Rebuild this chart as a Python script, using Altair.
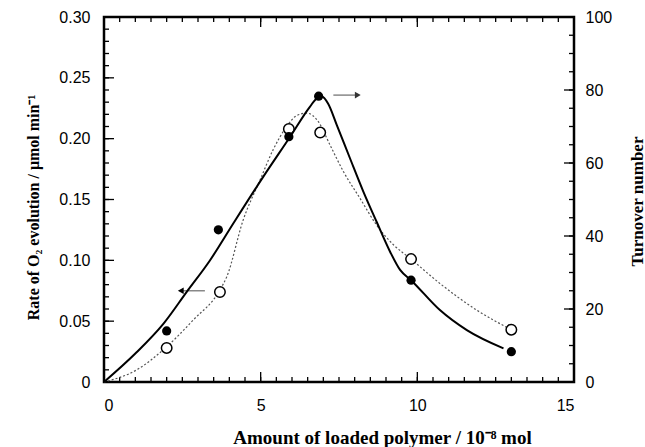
import altair as alt
import pandas as pd

# ---- data ----
# open circles: rate of O2 evolution (left axis, umol/min)
rate_x = [2.0, 3.7, 5.9, 6.9, 9.8, 13.0]
rate_y = [0.028, 0.074, 0.208, 0.205, 0.101, 0.043]
# filled circles: turnover number (right axis)
ton_x = [2.0, 3.65, 5.9, 6.85, 9.8, 13.0]
ton_y = [14.0, 41.7, 67.2, 78.3, 27.9, 8.3]

# dotted guide curve for the rate (left axis)
rate_curve_x = [0, 1.04, 2.0, 2.85, 3.7, 3.92, 4.44, 4.98, 5.4, 5.83, 6.15, 6.47,
                6.84, 7.21, 7.64, 8.17, 8.7, 9.23, 9.8, 10.72, 11.9, 13.0]
rate_curve_y = [0, 0.0099, 0.029, 0.051, 0.0756, 0.0866, 0.133, 0.166, 0.191, 0.210,
                0.219, 0.221, 0.214, 0.195, 0.173, 0.151, 0.129, 0.113, 0.101, 0.081,
                0.059, 0.043]
# solid guide curve for the turnover number (right axis)
ton_curve_x = [0, 1.0, 1.9, 2.64, 3.38, 4.13, 5.08, 5.94, 6.57, 6.8, 6.95, 7.15, 7.43,
               7.85, 8.28, 8.7, 9.13, 9.45, 9.8, 10.72, 11.58, 12.75]
ton_curve_y = [0, 7.8, 16.0, 24.7, 33.3, 43.5, 56.2, 67.2, 75.4, 77.8, 78.2, 76.3, 70.4,
               61.3, 52.1, 43.9, 35.7, 30.7, 27.9, 19.7, 14.2, 9.2]

# arrows (axis indicators)
left_arrow = {"x1": 3.22, "x2": 2.45, "y": 0.075}
right_arrow = {"x1": 7.32, "x2": 8.1, "y": 78.6}

# tick values
x_labels = [0, 5, 10, 15]
x_minor = [i * 0.5 for i in range(31)]
yl_labels = [0, 0.05, 0.10, 0.15, 0.20, 0.25, 0.30]
yl_minor = [round(i * 0.01, 2) for i in range(31)]
yr_labels = [0, 20, 40, 60, 80, 100]
yr_minor = [i * 5 for i in range(21)]

W, H = 470, 365
LABEL_FONT = "Liberation Sans"
TITLE_FONT = "Liberation Serif"

x_axis = alt.Axis(
    title="Amount of loaded polymer / 10⁻⁸ mol", values=x_labels, ticks=False,
    domain=False, grid=False, labelFont=LABEL_FONT, labelFontSize=16, labelColor="black",
    labelPadding=15, titleFont=TITLE_FONT, titleFontSize=19, titleFontWeight="bold",
    titleColor="black", titleX=278, titleY=55, titleBaseline="middle",
)
x_scale = alt.Scale(domain=[0, 15], nice=False, zero=False)


def X(field):
    return alt.X(f"{field}:Q", scale=x_scale, axis=x_axis)


yl_scale = alt.Scale(domain=[0, 0.30], nice=False)
yl_axis = alt.Axis(
    title="Rate of O₂ evolution / μmol min⁻¹", values=yl_labels, ticks=False,
    domain=False, grid=False, orient="left",
    labelExpr="datum.value == 0 ? '0' : format(datum.value, '.2f')",
    labelFont=LABEL_FONT, labelFontSize=16, labelColor="black", labelPadding=14,
    titleFont=TITLE_FONT, titleFontSize=16, titleFontWeight="bold", titleColor="black",
    titleAngle=270, titleBaseline="middle", titleX=-71, titleY=190,
)
yr_scale = alt.Scale(domain=[0, 100], nice=False)
yr_axis = alt.Axis(
    title="Turnover number", values=yr_labels, ticks=False, domain=False, grid=False,
    orient="right", labelFont=LABEL_FONT, labelFontSize=16, labelColor="black",
    labelPadding=11, titleFont=TITLE_FONT, titleFontSize=17, titleFontWeight="bold",
    titleColor="black", titleAngle=270, titleBaseline="middle", titleX=63, titleY=184,
)


def YL(field):
    return alt.Y(f"{field}:Q", scale=yl_scale, axis=yl_axis)


def YR(field):
    return alt.Y(f"{field}:Q", scale=yr_scale, axis=yr_axis)


rate_pts = pd.DataFrame({"x": rate_x, "y": rate_y})
ton_pts = pd.DataFrame({"x": ton_x, "y": ton_y})
rate_curve = pd.DataFrame({"x": rate_curve_x, "y": rate_curve_y})
ton_curve = pd.DataFrame({"x": ton_curve_x, "y": ton_curve_y})

# ---- left-scale group ----
left_minor = alt.Chart(pd.DataFrame({"v": yl_minor})).mark_rule(
    color="black", strokeWidth=1.3).encode(y=YL("v"), x=alt.value(0), x2=alt.value(5))
left_major = alt.Chart(pd.DataFrame({"v": yl_labels})).mark_rule(
    color="black", strokeWidth=1.3).encode(y=YL("v"), x=alt.value(0), x2=alt.value(10))

rate_line = alt.Chart(rate_curve).mark_line(
    color="#555555", strokeWidth=1.2, strokeDash=[2, 2], interpolate="monotone"
).encode(x=X("x"), y=YL("y"))

la = pd.DataFrame([left_arrow])
left_arrow_line = alt.Chart(la).mark_rule(color="#888888", strokeWidth=1.5).encode(
    x=X("x1"), x2="x2:Q", y=YL("y"))
left_arrow_head = alt.Chart(la).mark_point(
    shape="triangle-left", filled=True, color="black", size=45, opacity=1
).encode(x=X("x2"), y=YL("y"))

rate_points = alt.Chart(rate_pts).mark_point(
    shape="circle", filled=True, fill="white", stroke="black", strokeWidth=1.5,
    size=110, opacity=1
).encode(x=X("x"), y=YL("y"))

left_group = alt.layer(left_minor, left_major, rate_line, left_arrow_line,
                       left_arrow_head, rate_points)

# ---- right-scale group ----
right_minor = alt.Chart(pd.DataFrame({"v": yr_minor})).mark_rule(
    color="black", strokeWidth=1.3).encode(y=YR("v"), x=alt.value(W), x2=alt.value(W - 5))
right_major = alt.Chart(pd.DataFrame({"v": yr_labels})).mark_rule(
    color="black", strokeWidth=1.3).encode(y=YR("v"), x=alt.value(W), x2=alt.value(W - 10))

ton_line = alt.Chart(ton_curve).mark_line(
    color="black", strokeWidth=2, interpolate="monotone"
).encode(x=X("x"), y=YR("y"))

ra = pd.DataFrame([right_arrow])
right_arrow_line = alt.Chart(ra).mark_rule(color="#888888", strokeWidth=1.5).encode(
    x=X("x1"), x2="x2:Q", y=YR("y"))
right_arrow_head = alt.Chart(ra).mark_point(
    shape="triangle-right", filled=True, color="#333333", size=45, opacity=1
).encode(x=X("x2"), y=YR("y"))

ton_points = alt.Chart(ton_pts).mark_point(
    shape="circle", filled=True, color="black", size=85, opacity=1
).encode(x=X("x"), y=YR("y"))

right_group = alt.layer(right_minor, right_major, ton_line, right_arrow_line,
                        right_arrow_head, ton_points)

# ---- x ticks (bottom and top, pointing inward) ----
x_major_df = pd.DataFrame({"v": x_labels})
x_minor_df = pd.DataFrame({"v": x_minor})
bottom_minor = alt.Chart(x_minor_df).mark_rule(color="black", strokeWidth=1.3).encode(
    x=X("v"), y=alt.value(H), y2=alt.value(H - 5))
bottom_major = alt.Chart(x_major_df).mark_rule(color="black", strokeWidth=1.3).encode(
    x=X("v"), y=alt.value(H), y2=alt.value(H - 10))
top_minor = alt.Chart(x_minor_df).mark_rule(color="black", strokeWidth=1.3).encode(
    x=X("v"), y=alt.value(0), y2=alt.value(5))
top_major = alt.Chart(x_major_df).mark_rule(color="black", strokeWidth=1.3).encode(
    x=X("v"), y=alt.value(0), y2=alt.value(10))

chart = alt.layer(
    bottom_minor, bottom_major, top_minor, top_major, left_group, right_group
).resolve_scale(y="independent").properties(
    width=W, height=H,
    autosize=alt.AutoSizeParams(type="none"),
    padding={"left": 104, "top": 17, "right": 71, "bottom": 65},
    background="white",
).configure_view(stroke="black", strokeWidth=2.5)

chart.save("out.html", embed_options={"renderer": "svg", "actions": False})
